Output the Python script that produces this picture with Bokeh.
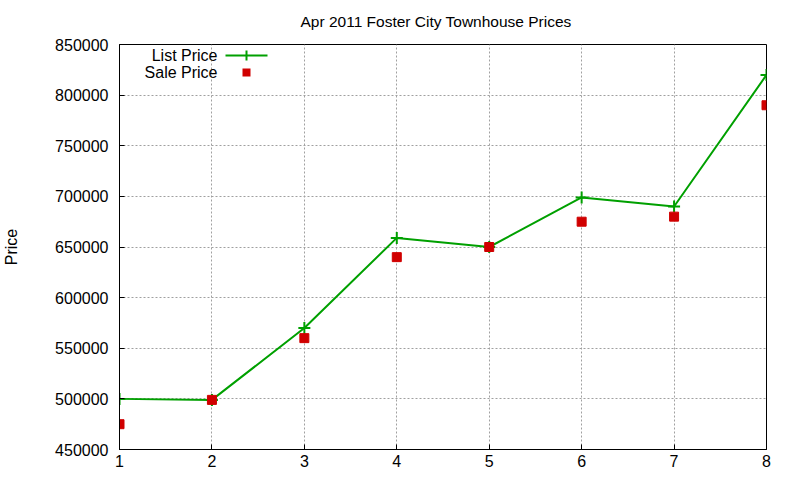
from bokeh.plotting import figure
from bokeh.models import Range1d, FixedTicker, Label, BoxAnnotation
from bokeh.embed import file_html
from bokeh.resources import INLINE

# ---- data ----
months = [1, 2, 3, 4, 5, 6, 7, 8]
list_price = [500000, 499000, 570000, 659000, 650000, 699000, 690000, 820000]
sale_price = [475000, 499000, 560000, 640000, 650000, 675000, 680000, 790000]
x_ticks = [1, 2, 3, 4, 5, 6, 7, 8]
y_ticks = [450000, 500000, 550000, 600000, 650000, 700000, 750000, 800000, 850000]

title_text = "Apr 2011 Foster City Townhouse Prices"
y_label = "Price"
series_names = ["List Price", "Sale Price"]

GREEN = "#00a000"
RED = "#d00000"
FONT = "Liberation Sans"

p = figure(width=792, height=472, output_backend="svg", toolbar_location=None,
           x_range=Range1d(1, 8), y_range=Range1d(450000, 850000),
           min_border_left=119, min_border_right=26, min_border_top=0,
           min_border_bottom=23)

p.title.text = title_text
p.title.align = "left"
p.title.offset = 181
p.title.vertical_align = "top"
p.title.text_font = FONT
p.title.text_font_size = "15.5px"
p.title.text_font_style = "normal"
p.title.text_color = "#000000"
p.title.standoff = 25

p.outline_line_color = "black"
p.outline_line_width = 1
p.background_fill_color = "white"
p.border_fill_color = "white"

for ax in (p.xaxis[0], p.yaxis[0]):
    ax.major_label_text_font = FONT
    ax.major_label_text_font_size = "16px"
    ax.major_label_text_color = "#000000"
    ax.major_tick_in = 5
    ax.major_tick_out = 0
    ax.minor_tick_in = 0
    ax.minor_tick_out = 0
    ax.axis_line_color = "black"
    ax.major_tick_line_color = "black"

p.xaxis[0].ticker = FixedTicker(ticks=x_ticks)
p.yaxis[0].ticker = FixedTicker(ticks=y_ticks)
p.xaxis[0].major_label_standoff = 5
p.yaxis[0].major_label_standoff = 11
p.yaxis[0].formatter.use_scientific = False
p.yaxis[0].axis_label = y_label
p.yaxis[0].axis_label_text_font = FONT
p.yaxis[0].axis_label_text_font_size = "16px"
p.yaxis[0].axis_label_text_font_style = "normal"
p.yaxis[0].axis_label_text_color = "#000000"
p.yaxis[0].axis_label_standoff = 32

for g in (p.xgrid[0], p.ygrid[0]):
    g.grid_line_color = "#a0a0a0"
    g.grid_line_dash = "2 2"
    g.grid_line_width = 1
p.xgrid[0].ticker = FixedTicker(ticks=x_ticks)
p.ygrid[0].ticker = FixedTicker(ticks=y_ticks)

# ---- data marks ----
p.line(months, list_price, line_color=GREEN, line_width=2)
p.scatter(months, list_price, marker="cross", size=12, line_color=GREEN, line_width=2)
p.scatter(months, sale_price, marker="square", size=9, fill_color=RED, line_color=RED)

# ---- key placement helpers (page px -> data) ----
def xd(px):
    return 1 + (px - 119) * 7 / 647.0

def yd(py):
    return 850000 - (py - 44) * 400000 / 405.0

# key (gnuplot style: label left, sample right)
for name, py in zip(series_names, [55, 72]):
    p.add_layout(Label(x=xd(217), y=yd(py), text=name, text_align="right",
                       text_baseline="middle", text_font=FONT, text_font_size="16px",
                       text_color="#000000"))

p.add_layout(BoxAnnotation(left=xd(225), right=xd(267), top=yd(54), bottom=yd(56),
                           fill_color=GREEN, fill_alpha=1, line_alpha=0))
p.add_layout(BoxAnnotation(left=xd(245), right=xd(247), top=yd(50), bottom=yd(60),
                           fill_color=GREEN, fill_alpha=1, line_alpha=0))
p.add_layout(BoxAnnotation(left=xd(242), right=xd(250), top=yd(68), bottom=yd(76),
                           fill_color=RED, fill_alpha=1, line_alpha=0))

open("out.html", "w").write(file_html(p, INLINE))
